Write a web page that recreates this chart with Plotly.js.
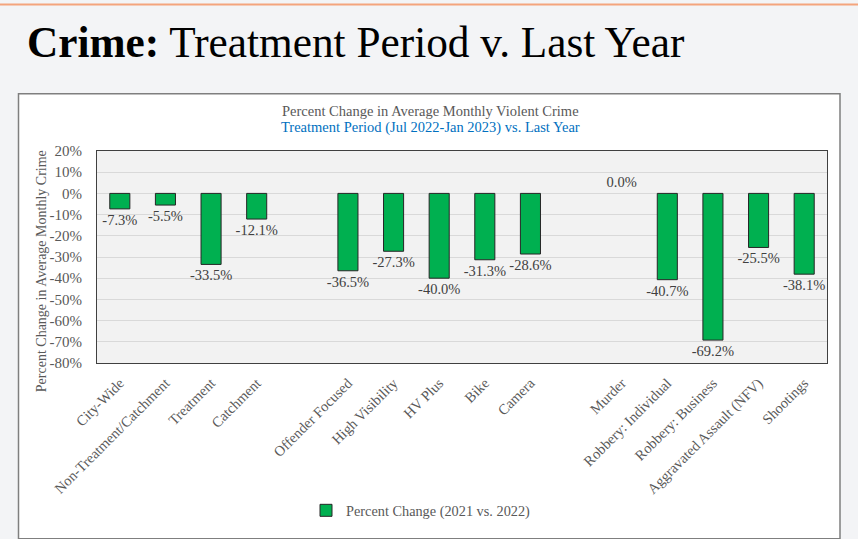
<!DOCTYPE html>
<html>
<head>
<meta charset="utf-8">
<script src="https://cdn.plot.ly/plotly-3.0.1.min.js"></script>
<style>html,body{margin:0;padding:0;background:#f3f4f6;}#chart{width:858px;height:539px;}</style>
</head>
<body>
<div id="chart"></div>
<script>
// Categories (blank placeholders mark the gaps between groups)
const categories = ["City-Wide", "Non-Treatment/Catchment", "Treatment", "Catchment", " ",
  "Offender Focused", "High Visibility", "HV Plus", "Bike", "Camera", "  ",
  "Murder", "Robbery: Individual", "Robbery: Business", "Aggravated Assault (NFV)", "Shootings"];
const percentChange = [-7.3, -5.5, -33.5, -12.1, null,
  -36.5, -27.3, -40.0, -31.3, -28.6, null,
  0.0, -40.7, -69.2, -25.5, -38.1];
const yTickVals = [20, 10, 0, -10, -20, -30, -40, -50, -60, -70, -80];
const yTickText = yTickVals.map(v => v + "%");
const seriesName = "Percent Change (2021 vs. 2022)";
const mainTitle = "<b>Crime:</b> Treatment Period v. Last Year";
const chartTitle1 = "Percent Change in Average Monthly Violent Crime";
const chartTitle2 = "Treatment Period (Jul 2022-Jan 2023) vs. Last Year";
const yTitle = "Percent Change in Average Monthly Crime";

const serif = "Liberation Serif, Times New Roman, serif";
const L = 97, R = 827, T = 151, B = 368, W = 858, H = 539;
const px = x => (x - L) / (R - L);
const py = y => (B - y) / (B - T);

const trace = {
  type: "bar",
  x: categories,
  y: percentChange,
  name: seriesName,
  marker: {color: "#00b050", line: {color: "#262626", width: percentChange.map(v => v === 0 ? 0 : 1)}},
  text: percentChange.map(v => v === null ? "" : v.toFixed(1) + "%"),
  textposition: "outside",
  constraintext: "none",
  cliponaxis: false,
  textfont: {family: serif, size: 14.5, color: "#404040"},
  hoverinfo: "x+y"
};

const layout = {
  width: W, height: H,
  margin: {l: L, r: W - R, t: T, b: H - B, pad: 0},
  paper_bgcolor: "#f3f4f6",
  plot_bgcolor: "rgba(0,0,0,0)",
  bargap: 0.56,
  showlegend: true,
  title: {text: mainTitle, font: {family: serif, size: 43.3, color: "#000000"},
    x: 27 / W, xanchor: "left", xref: "container", y: 1 - 42 / H, yanchor: "middle", yref: "container"},
  xaxis: {
    type: "category", tickangle: -45, ticks: "", showgrid: false,
    ticklabelstandoff: 5,
    showline: true, mirror: true, linecolor: "#404040", linewidth: 1,
    tickfont: {family: serif, size: 14.5, color: "#595959"}, fixedrange: true
  },
  yaxis: {
    range: [-80, 20], tickvals: yTickVals, ticktext: yTickText, ticks: "",
    ticklabelstandoff: 11,
    showgrid: true, gridcolor: "#d9d9d9", gridwidth: 1, zeroline: false,
    showline: true, mirror: true, linecolor: "#404040", linewidth: 1,
    tickfont: {family: serif, size: 15, color: "#595959"},
    fixedrange: true
  },
  legend: {orientation: "h", x: px(421), xanchor: "center", y: py(519), yanchor: "middle",
    bgcolor: "rgba(0,0,0,0)", font: {family: serif, size: 14.3, color: "#595959"}},
  shapes: [
    {type: "rect", xref: "paper", yref: "paper", x0: -L / (R - L), x1: (W + 5 - L) / (R - L), y0: py(0), y1: py(2),
      fillcolor: "#f4a47c", line: {width: 0}, layer: "below"},
    {type: "rect", xref: "paper", yref: "paper", x0: px(18.5), x1: px(840), y0: py(548), y1: py(92.5),
      fillcolor: "#ffffff", line: {color: "#7f7f7f", width: 1.5}, layer: "below"},
    {type: "rect", xref: "paper", yref: "paper", x0: 0, x1: 1, y0: 0, y1: 1,
      fillcolor: "#f2f2f2", line: {width: 0}, layer: "below"}
  ],
  annotations: [
    {text: chartTitle1, xref: "paper", yref: "paper", x: px(430), y: py(110), xanchor: "center", yanchor: "middle",
      showarrow: false, font: {family: serif, size: 14.5, color: "#595959"}},
    {text: chartTitle2, xref: "paper", yref: "paper", x: px(430), y: py(127), xanchor: "center", yanchor: "middle",
      showarrow: false, font: {family: serif, size: 14.5, color: "#0070c0"}},
    {text: yTitle, xref: "paper", yref: "paper", x: px(41), y: py(274), xanchor: "center", yanchor: "middle",
      textangle: -90, showarrow: false, font: {family: serif, size: 14, color: "#595959"}}
  ]
};

Plotly.newPlot("chart", [trace], layout, {displayModeBar: false, staticPlot: true});
</script>
</body>
</html>
